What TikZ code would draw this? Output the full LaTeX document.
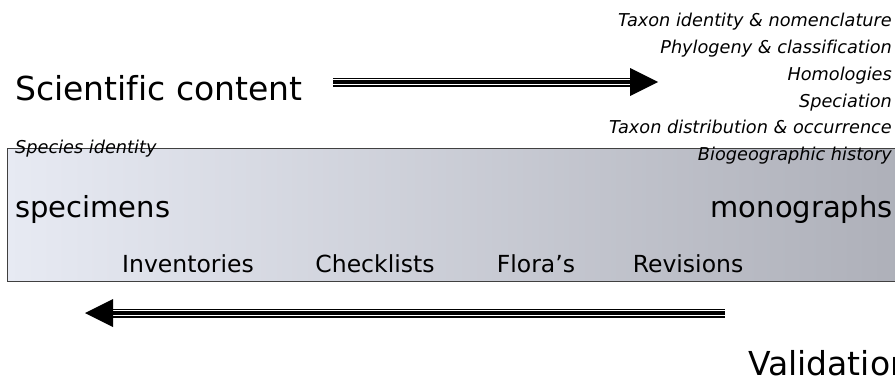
\documentclass[tikz,border=0pt]{standalone}
\usepackage{fontspec}
\setmainfont{DejaVu Sans}[Ligatures=NoCommon]
\usepackage{tikz}
\usetikzlibrary{positioning,calc}

\definecolor{bandleft}{RGB}{231,234,243}
\definecolor{bandright}{RGB}{174,176,185}

\begin{document}
\begin{tikzpicture}[x=1pt,y=-1pt,
    band/.style={draw=black!75,line width=0.8pt,left color=bandleft,right color=bandright,
                 minimum width=893pt,minimum height=133pt,inner sep=0pt},
    big/.style={font=\fontsize{33}{36}\selectfont,inner sep=0pt},
    endpoint/.style={font=\fontsize{29}{32}\selectfont,inner sep=0pt},
    kind/.style={font=\fontsize{23.5}{26}\selectfont,anchor=base,inner sep=0pt},
    topic/.style={font=\fontsize{17.7}{20}\selectfont\itshape,anchor=base east,inner sep=0pt},
    shaft/.style={line width=9pt,postaction={draw,white,line width=6.4pt},
                  postaction={draw,black,line width=3.4pt}},
    head/.style={fill=black}]

  \useasboundingbox (0,0) rectangle (895,380);

  % the band of publication types
  \node[band] (band) at (453.5,214.5) {};

  \node[big,anchor=base west] (sci) at (15,100) {Scientific content};
  \node[big,anchor=base west] (valid) at (748,375) {Validation};

  \node[endpoint,anchor=base west] (spec) at (15,217) {specimens};
  \node[endpoint,anchor=base east] (mono) at (893,217) {monographs};

  \node[kind] (inv) at (188,272) {Inventories};
  \node[kind] (check) at (375,272) {Checklists};
  \node[kind] (flora) at (536,272) {Flora's};
  \node[kind] (rev) at (688,272) {Revisions};

  % content topics
  \node[topic] (taxid) at (892,26) {Taxon identity \& nomenclature};
  \node[topic] (phylo) at (892,53) {Phylogeny \& classification};
  \node[topic] (homol) at (892,80) {Homologies};
  \node[topic] (spec2) at (892,107) {Speciation};
  \node[topic] (distr) at (892,133) {Taxon distribution \& occurrence};
  \node[topic] (biog) at (892,160) {Biogeographic history};
  \node[topic,anchor=base west] (spid) at (15,153) {Species identity};

  % arrows
  \coordinate (sciA) at (333,82);
  \coordinate (sciB) at (630,82);
  \coordinate (sciC) at (658,82);
  \draw[shaft] (sciA) -- (sciB);
  \fill[head] (sciC) -- ($(sciB)+(0,-14)$) -- ($(sciB)+(0,14)$) -- cycle;

  \coordinate (valA) at (725,313);
  \coordinate (valB) at (113,313);
  \coordinate (valC) at (85,313);
  \draw[shaft] (valA) -- (valB);
  \fill[head] (valC) -- ($(valB)+(0,-14)$) -- ($(valB)+(0,14)$) -- cycle;
\end{tikzpicture}
\end{document}
